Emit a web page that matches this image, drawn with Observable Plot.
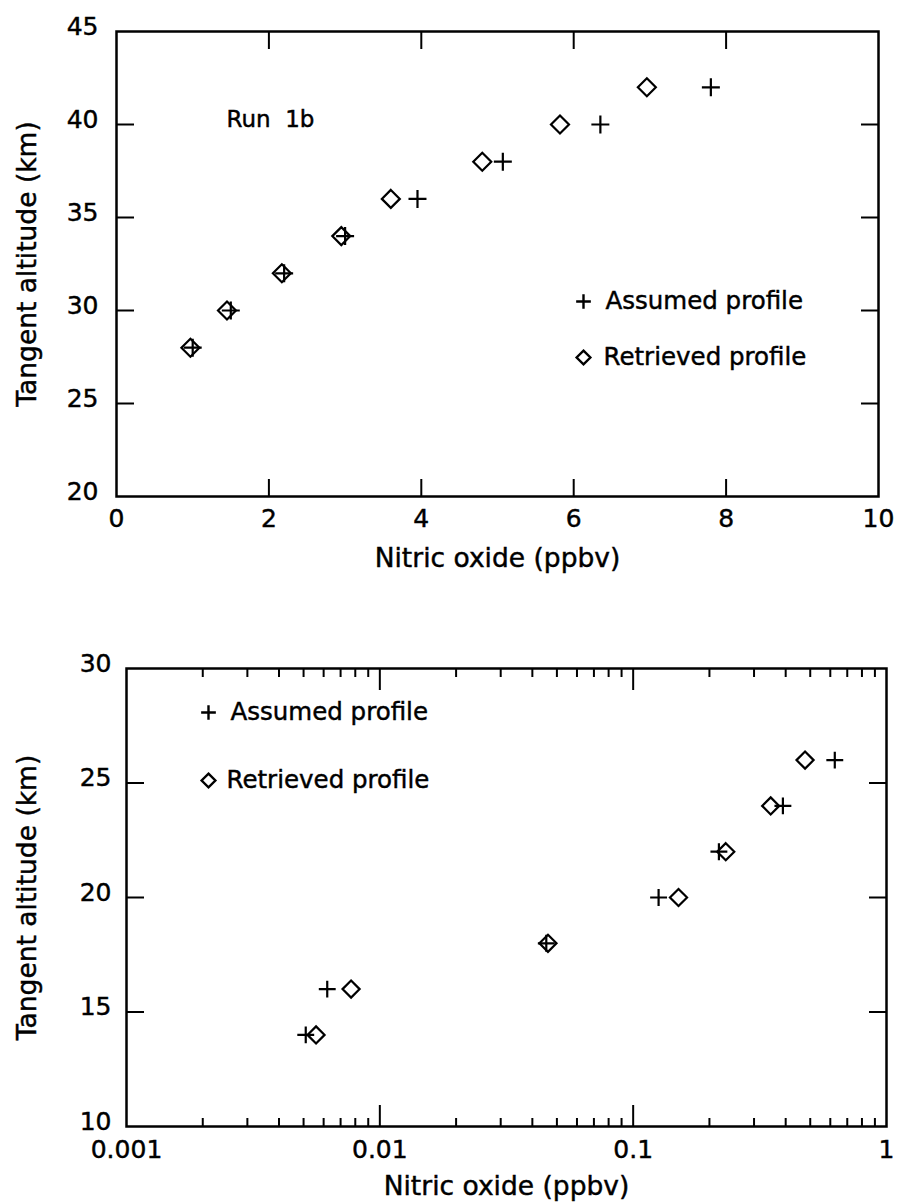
<!DOCTYPE html>
<html><head><meta charset="utf-8">
<script src="https://cdn.jsdelivr.net/npm/d3@7"></script>
<script src="https://cdn.jsdelivr.net/npm/@observablehq/plot@0.6"></script>
<style>
body{margin:0;background:#fff;}
#chart svg{display:block;}
#chart svg text{stroke:black;stroke-width:0.45px;}
</style></head><body><div id="chart"></div>
<script>
// ---- Data ----
const altitudeTop = [28, 30, 32, 34, 36, 38, 40, 42];
const assumedTop = [1.0, 1.5, 2.2, 3.0, 3.95, 5.07, 6.35, 7.8];
const retrievedTop = [0.97, 1.45, 2.17, 2.95, 3.6, 4.8, 5.82, 6.96];

const altitudeBottom = [14, 16, 18, 20, 22, 24, 26];
const assumedBottom = [0.0051, 0.0062, 0.0454, 0.126, 0.218, 0.39, 0.625];
const retrievedBottom = [0.0056, 0.0077, 0.0461, 0.151, 0.232, 0.349, 0.477];

// ---- Ticks & labels ----
const xTicksTop = [0, 2, 4, 6, 8, 10];
const xInnerTicksTop = [2, 4, 6, 8];
const yTicksTop = [20, 25, 30, 35, 40, 45];
const yInnerTicksTop = [25, 30, 35, 40];

const xTicksBottom = [0.001, 0.01, 0.1, 1];
const xTickLabelsBottom = ["0.001", "0.01", "0.1", "1"];
const xMajorInnerBottom = [0.01, 0.1];
const xMinorBottom = [0.002, 0.003, 0.004, 0.005, 0.006, 0.007, 0.008, 0.009,
                      0.02, 0.03, 0.04, 0.05, 0.06, 0.07, 0.08, 0.09,
                      0.2, 0.3, 0.4, 0.5, 0.6, 0.7, 0.8, 0.9];
const yTicksBottom = [10, 15, 20, 25, 30];
const yInnerTicksBottom = [15, 20, 25];

const legendLabels = ["Assumed profile", "Retrieved profile"];
const runLabel = "Run\u00a0 1b";
const xTitle = "Nitric oxide (ppbv)";
const yTitle = "Tangent altitude (km)";

const FONT = "DejaVu Sans";
const TICKFS = 25;
const LEGFS = 24.5;
const TITLEFS = 26.5;

const topData = altitudeTop.map((a, i) => ({alt: a, assumed: assumedTop[i], retrieved: retrievedTop[i]}));
const bottomData = altitudeBottom.map((a, i) => ({alt: a, assumed: assumedBottom[i], retrieved: retrievedBottom[i]}));

const blank = () => "";

function innerTicks(xs, ys, xLen, yLen, xMinor, xMinorLen) {
  const m = [];
  for (const anchor of ["bottom", "top"]) {
    m.push(Plot.axisX(xs, {anchor, tickSize: -xLen, strokeWidth: 2, tickFormat: blank, label: null}));
    if (xMinor) m.push(Plot.axisX(xMinor, {anchor, tickSize: -xMinorLen, strokeWidth: 2, tickFormat: blank, label: null}));
  }
  for (const anchor of ["left", "right"]) {
    m.push(Plot.axisY(ys, {anchor, tickSize: -yLen, strokeWidth: 2, tickFormat: blank, label: null}));
  }
  return m;
}

function legendText(label, dx, dy, fs = LEGFS) {
  return Plot.text([label], {text: d => d, frameAnchor: "top-left", dx, dy, textAnchor: "start", lineAnchor: "middle", fontSize: fs});
}

// ---- Top panel ----
const topChart = Plot.plot({
  width: 898, height: 600,
  marginTop: 31, marginBottom: 104, marginLeft: 116, marginRight: 20,
  style: {fontFamily: FONT, fontSize: TICKFS + "px", color: "black", background: "white"},
  x: {type: "linear", domain: [0, 10]},
  y: {type: "linear", domain: [20, 45]},
  marks: [
    Plot.axisX(xTicksTop, {anchor: "bottom", tickSize: 0, tickPadding: 13, fontSize: TICKFS, label: null}),
    Plot.axisY(yTicksTop, {anchor: "left", tickSize: 0, tickPadding: 18, dy: -5, fontSize: TICKFS, label: null}),
    ...innerTicks(xInnerTicksTop, yInnerTicksTop, 17, 18),
    Plot.frame({stroke: "black", strokeWidth: 2.5}),
    Plot.dot(topData, {x: "assumed", y: "alt", symbol: "plus", r: 5.85, stroke: "black", strokeWidth: 2.2}),
    Plot.dot(topData, {x: "retrieved", y: "alt", symbol: "diamond2", r: 8.1, stroke: "black", fill: "none", strokeWidth: 2.2}),
    legendText(runLabel, 110, 88, 23),
    Plot.dot([legendLabels[0]], {frameAnchor: "top-left", dx: 467, dy: 270, symbol: "plus", r: 4.8, stroke: "black", strokeWidth: 2.4}),
    legendText(legendLabels[0], 489, 270),
    Plot.dot([legendLabels[1]], {frameAnchor: "top-left", dx: 467, dy: 326, symbol: "diamond2", r: 6.2, stroke: "black", fill: "none", strokeWidth: 2.4}),
    legendText(legendLabels[1], 487, 326),
    Plot.text([xTitle], {text: d => d, frameAnchor: "bottom", dy: 62, textAnchor: "middle", lineAnchor: "middle", fontSize: TITLEFS}),
    Plot.text([yTitle], {text: d => d, frameAnchor: "left", dx: -89, rotate: -90, textAnchor: "middle", lineAnchor: "middle", fontSize: TITLEFS})
  ]
});

// ---- Bottom panel ----
const bottomChart = Plot.plot({
  width: 898, height: 602,
  marginTop: 68, marginBottom: 76, marginLeft: 126, marginRight: 12,
  style: {fontFamily: FONT, fontSize: TICKFS + "px", color: "black", background: "white"},
  x: {type: "log", domain: [0.001, 1]},
  y: {type: "linear", domain: [10, 30]},
  marks: [
    Plot.axisX(xTicksBottom, {anchor: "bottom", tickSize: 0, tickPadding: 14, fontSize: TICKFS, label: null,
      tickFormat: d => xTickLabelsBottom[xTicksBottom.indexOf(d)]}),
    Plot.axisY(yTicksBottom, {anchor: "left", tickSize: 0, tickPadding: 15, dy: -5, fontSize: TICKFS, label: null}),
    ...innerTicks(xMajorInnerBottom, yInnerTicksBottom, 21, 18, xMinorBottom, 8),
    Plot.frame({stroke: "black", strokeWidth: 2.5}),
    Plot.dot(bottomData, {x: "assumed", y: "alt", symbol: "plus", r: 5.5, stroke: "black", strokeWidth: 2.2}),
    Plot.dot(bottomData, {x: "retrieved", y: "alt", symbol: "diamond2", r: 7.7, stroke: "black", fill: "none", strokeWidth: 2.2}),
    Plot.dot([legendLabels[0]], {frameAnchor: "top-left", dx: 82, dy: 44, symbol: "plus", r: 4.8, stroke: "black", strokeWidth: 2.4}),
    legendText(legendLabels[0], 104, 44),
    Plot.dot([legendLabels[1]], {frameAnchor: "top-left", dx: 82, dy: 112, symbol: "diamond2", r: 6.2, stroke: "black", fill: "none", strokeWidth: 2.4}),
    legendText(legendLabels[1], 100, 112),
    Plot.text([xTitle], {text: d => d, frameAnchor: "bottom", dy: 60, textAnchor: "middle", lineAnchor: "middle", fontSize: TITLEFS}),
    Plot.text([yTitle], {text: d => d, frameAnchor: "left", dx: -99, rotate: -90, textAnchor: "middle", lineAnchor: "middle", fontSize: TITLEFS})
  ]
});

const root = document.getElementById("chart");
root.appendChild(topChart);
root.appendChild(bottomChart);
</script>
</body></html>
